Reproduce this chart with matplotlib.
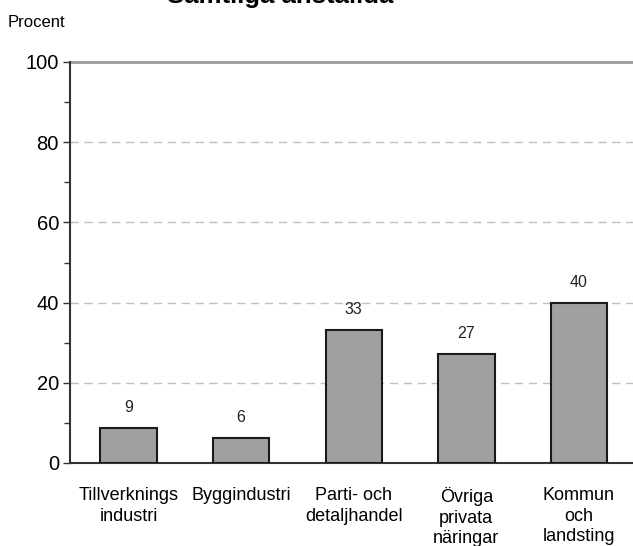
import matplotlib
matplotlib.use("Agg")
import matplotlib.pyplot as plt
from matplotlib.ticker import MultipleLocator

plt.rcParams['font.family'] = ['Liberation Sans', 'DejaVu Sans']

# data
kategorier = ['Tillverknings\nindustri', 'Byggindustri', 'Parti- och\ndetaljhandel',
              'Övriga\nprivata\nnäringar', 'Kommun\noch\nlandsting']
andel = [8.7, 6.3, 33.1, 27.3, 39.9]
etiketter = ['9', '6', '33', '27', '40']

fig = plt.figure(figsize=(6.33, 5.46), dpi=100)
ax = fig.add_axes([70/633, 83/546, 563/633, 401/546])

x = range(len(kategorier))
ax.bar(x, andel, width=0.5, color='#a0a0a0', edgecolor='#1a1a1a', linewidth=1.5, zorder=3)
for xi, v, t in zip(x, andel, etiketter):
    ax.text(xi, v + 3.2, t, ha='center', va='bottom', fontsize=11.5, color='#222222')

ax.set_xlim(-0.52, 4.48)
ax.set_ylim(0, 100)
ax.yaxis.set_major_locator(MultipleLocator(20))
ax.yaxis.set_minor_locator(MultipleLocator(10))
for g in [20, 40, 60, 80]:
    ax.axhline(g, color='#c0c0c0', linestyle=(0, (6, 4)), linewidth=1, zorder=1)
ax.axhline(100, color='#999999', linewidth=2, zorder=2, clip_on=False)

ax.set_xticks(list(x))
ax.set_xticklabels(kategorier, fontsize=13, linespacing=1.3)
ax.tick_params(axis='x', length=0, pad=17)
ax.tick_params(axis='y', which='major', length=5, width=1, color='#333333', labelsize=14.5, pad=3)
ax.tick_params(axis='y', which='minor', length=4, width=1, color='#333333')

for s in ['top', 'right']:
    ax.spines[s].set_visible(False)
ax.spines['left'].set_color('#333333')
ax.spines['left'].set_linewidth(1.5)
ax.spines['bottom'].set_color('#333333')
ax.spines['bottom'].set_linewidth(1.5)

fig.text(8/633, 1 - 27/546, 'Procent', fontsize=12, ha='left', va='baseline')
fig.text(280/633, 1 - 3/546, 'Samtliga anställda', fontsize=18.5, fontweight='bold',
         ha='center', va='baseline')

fig.savefig('out.png', dpi=100)
